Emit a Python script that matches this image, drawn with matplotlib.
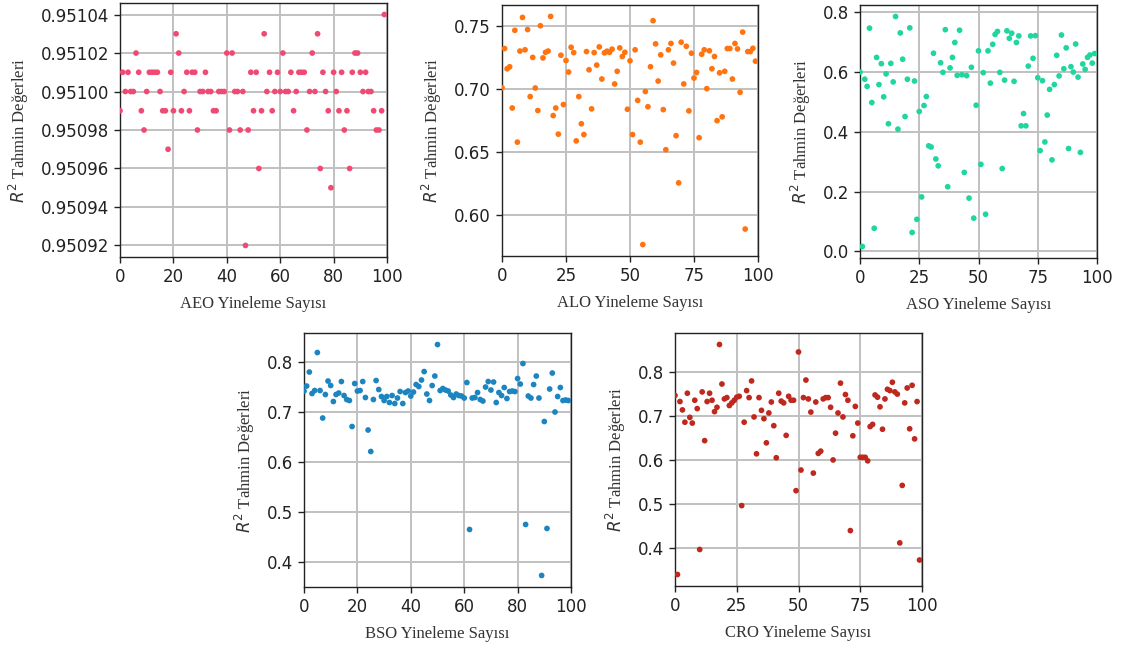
import numpy as np
import matplotlib
matplotlib.use("Agg")
import matplotlib.pyplot as plt

iterations = list(range(100))

aeo_r2 = [0.95099, 0.95101, 0.95100, 0.95101, 0.95100, 0.95100, 0.95102, 0.95101, 0.95099, 0.95098,
          0.95100, 0.95101, 0.95101, 0.95101, 0.95101, 0.95100, 0.95099, 0.95099, 0.95097, 0.95101,
          0.95099, 0.95103, 0.95102, 0.95099, 0.95100, 0.95101, 0.95099, 0.95101, 0.95101, 0.95098,
          0.95100, 0.95100, 0.95101, 0.95100, 0.95100, 0.95099, 0.95099, 0.95100, 0.95100, 0.95100,
          0.95102, 0.95098, 0.95102, 0.95100, 0.95100, 0.95098, 0.95100, 0.95092, 0.95098, 0.95101,
          0.95099, 0.95101, 0.95096, 0.95099, 0.95103, 0.95100, 0.95101, 0.95099, 0.95100, 0.95101,
          0.95100, 0.95102, 0.95100, 0.95100, 0.95101, 0.95099, 0.95100, 0.95101, 0.95101, 0.95101,
          0.95098, 0.95100, 0.95102, 0.95100, 0.95103, 0.95096, 0.95101, 0.95100, 0.95099, 0.95095,
          0.95101, 0.95100, 0.95099, 0.95101, 0.95098, 0.95099, 0.95096, 0.95101, 0.95102, 0.95102,
          0.95101, 0.95100, 0.95101, 0.95100, 0.95100, 0.95099, 0.95098, 0.95098, 0.95099, 0.95104]

alo_r2 = [0.701, 0.732, 0.716, 0.7176, 0.685, 0.7464, 0.658, 0.730, 0.7566, 0.731,
          0.747, 0.694, 0.725, 0.7008, 0.683, 0.750, 0.7246, 0.729, 0.730, 0.7574,
          0.679, 0.685, 0.6643, 0.7267, 0.6877, 0.7225, 0.7134, 0.733, 0.7288, 0.659,
          0.694, 0.6725, 0.664, 0.7296, 0.7152, 0.6843, 0.7288, 0.7189, 0.7333, 0.7079,
          0.7286, 0.7299, 0.729, 0.7315, 0.704, 0.714, 0.7325, 0.7257, 0.729, 0.684,
          0.7223, 0.664, 0.731, 0.691, 0.658, 0.577, 0.698, 0.686, 0.7176, 0.754,
          0.7357, 0.7063, 0.727, 0.6837, 0.652, 0.731, 0.736, 0.7205, 0.6631, 0.6258,
          0.737, 0.704, 0.7338, 0.6827, 0.7283, 0.7087, 0.7131, 0.6615, 0.7275, 0.731,
          0.7003, 0.7302, 0.716, 0.7257, 0.675, 0.7128, 0.678, 0.714, 0.732, 0.732,
          0.7079, 0.736, 0.7317, 0.6974, 0.745, 0.5893, 0.7296, 0.7296, 0.7322, 0.722]

aso_r2 = [0.600, 0.016, 0.576, 0.552, 0.747, 0.498, 0.077, 0.649, 0.558, 0.628,
          0.517, 0.594, 0.427, 0.629, 0.567, 0.786, 0.409, 0.731, 0.643, 0.451,
          0.576, 0.748, 0.063, 0.570, 0.107, 0.468, 0.182, 0.488, 0.518, 0.353,
          0.349, 0.663, 0.309, 0.286, 0.631, 0.599, 0.742, 0.216, 0.614, 0.649,
          0.699, 0.589, 0.740, 0.591, 0.264, 0.588, 0.178, 0.616, 0.111, 0.489,
          0.671, 0.291, 0.598, 0.124, 0.671, 0.563, 0.693, 0.726, 0.736, 0.599,
          0.277, 0.573, 0.738, 0.713, 0.730, 0.569, 0.699, 0.721, 0.420, 0.461,
          0.420, 0.620, 0.721, 0.646, 0.722, 0.581, 0.337, 0.571, 0.366, 0.456,
          0.542, 0.306, 0.558, 0.656, 0.587, 0.724, 0.611, 0.681, 0.344, 0.618,
          0.600, 0.694, 0.583, 0.331, 0.627, 0.609, 0.649, 0.657, 0.630, 0.662]

bso_r2 = [0.742, 0.752, 0.780, 0.737, 0.743, 0.819, 0.743, 0.688, 0.735, 0.762,
          0.753, 0.721, 0.735, 0.738, 0.761, 0.733, 0.725, 0.723, 0.671, 0.757,
          0.742, 0.743, 0.761, 0.729, 0.664, 0.621, 0.725, 0.763, 0.745, 0.731,
          0.723, 0.731, 0.719, 0.733, 0.717, 0.728, 0.741, 0.717, 0.739, 0.742,
          0.732, 0.740, 0.755, 0.751, 0.764, 0.781, 0.736, 0.723, 0.753, 0.772,
          0.835, 0.743, 0.747, 0.744, 0.742, 0.734, 0.729, 0.736, 0.733, 0.732,
          0.728, 0.759, 0.465, 0.728, 0.729, 0.739, 0.725, 0.722, 0.750, 0.761,
          0.744, 0.760, 0.719, 0.739, 0.733, 0.749, 0.727, 0.741, 0.742, 0.741,
          0.767, 0.756, 0.797, 0.475, 0.732, 0.728, 0.755, 0.772, 0.728, 0.373,
          0.681, 0.467, 0.746, 0.778, 0.700, 0.731, 0.749, 0.723, 0.724, 0.723]

cro_r2 = [0.747, 0.339, 0.733, 0.714, 0.686, 0.752, 0.697, 0.684, 0.736, 0.717,
          0.396, 0.755, 0.644, 0.733, 0.752, 0.736, 0.710, 0.720, 0.863, 0.773,
          0.739, 0.742, 0.724, 0.730, 0.736, 0.743, 0.745, 0.496, 0.686, 0.758,
          0.742, 0.780, 0.698, 0.614, 0.742, 0.713, 0.694, 0.639, 0.707, 0.732,
          0.678, 0.605, 0.752, 0.734, 0.730, 0.656, 0.745, 0.736, 0.736, 0.530,
          0.846, 0.577, 0.742, 0.782, 0.739, 0.709, 0.570, 0.732, 0.615, 0.620,
          0.739, 0.742, 0.742, 0.720, 0.600, 0.661, 0.707, 0.775, 0.698, 0.749,
          0.736, 0.439, 0.655, 0.722, 0.684, 0.606, 0.606, 0.606, 0.598, 0.676,
          0.681, 0.748, 0.743, 0.721, 0.670, 0.739, 0.761, 0.758, 0.777, 0.755,
          0.750, 0.411, 0.542, 0.730, 0.764, 0.671, 0.770, 0.648, 0.733, 0.372]

names = ["AEO", "ALO", "ASO", "BSO", "CRO"]
series = [aeo_r2, alo_r2, aso_r2, bso_r2, cro_r2]
colors = ["#f04a74", "#ff7411", "#1fd6a0", "#1c84bf", "#bf281c"]
xticks_list = [[0, 20, 40, 60, 80, 100], [0, 25, 50, 75, 100], [0, 25, 50, 75, 100],
               [0, 20, 40, 60, 80, 100], [0, 25, 50, 75, 100]]
yticks_list = [[0.95092, 0.95094, 0.95096, 0.95098, 0.95100, 0.95102, 0.95104],
               [0.60, 0.65, 0.70, 0.75],
               [0.0, 0.2, 0.4, 0.6, 0.8],
               [0.4, 0.5, 0.6, 0.7, 0.8],
               [0.4, 0.5, 0.6, 0.7, 0.8]]
ytick_fmt = ["{:.5f}", "{:.2f}", "{:.1f}", "{:.1f}", "{:.1f}"]

W, H = 1123, 650
# axes boxes in pixels: left, top, right, bottom
boxes = [(120, 3, 387, 257), (502, 5, 758, 256), (860, 5, 1097, 258),
         (304, 333, 571, 587), (675, 333, 922, 586)]

plt.rcParams['mathtext.fontset'] = 'dejavusans'
fig = plt.figure(figsize=(W / 100, H / 100), dpi=100)
for name, vals, col, xt, yt, fmt, (l, t, r, b) in zip(names, series, colors, xticks_list,
                                                      yticks_list, ytick_fmt, boxes):
    ax = fig.add_axes([l / W, 1 - b / H, (r - l) / W, (b - t) / H])
    ax.set_axisbelow(True)
    ax.grid(True, color="#c0c0c0", linewidth=1.4)
    ax.scatter(iterations, vals, s=17, color=col, edgecolors="none", zorder=3)
    ax.set_xlim(0, 100)
    ax.set_xticks(xt)
    ax.set_yticks(yt)
    ax.set_yticklabels([fmt.format(v) for v in yt])
    ax.tick_params(labelsize=12, colors="#222222", length=4.5, width=1, pad=3.5)
    for sp in ax.spines.values():
        sp.set_color("#222222")
        sp.set_linewidth(1.0)
    ax.set_xlabel(f"{name} Yineleme Sayısı", fontfamily="Liberation Serif",
                  fontsize=12, color="#333333", labelpad=7)
    ax.set_ylabel(r"$R^2$ Tahmin Değerleri", fontfamily="Liberation Serif",
                  fontsize=12, color="#333333", labelpad=7)

fig.savefig("out.png", dpi=100)
